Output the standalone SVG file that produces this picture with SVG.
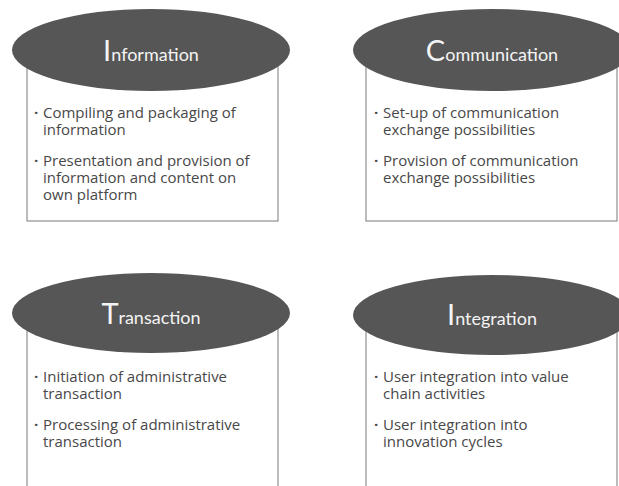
<svg xmlns="http://www.w3.org/2000/svg" width="619" height="486" viewBox="0 0 619 486">
  <style>
    .box { fill: #ffffff; stroke: #8f8f8f; stroke-width: 1.2; }
    .cap { fill: #565656; }
    .title { font-family: Lato, "Open Sans", sans-serif; font-size: 18px; fill: #f4f4f4; text-anchor: middle; }
    .init { font-size: 29px; }
    .body { font-family: "Open Sans", "Noto Sans", sans-serif; font-size: 15px; fill: #484848; }
    .dot { font-weight: bold; }
  </style>
  <rect width="619" height="486" fill="#ffffff"/>

  <g id="information">
    <rect class="box" x="27" y="50" width="251" height="171"/>
    <ellipse class="cap" cx="151" cy="50" rx="139" ry="41"/>
    <text class="title" x="151" y="61"><tspan class="init">I</tspan>nformation</text>
    <text class="body" y="118"><tspan class="dot" x="34">·</tspan><tspan x="43">Compiling and packaging of</tspan><tspan x="43" dy="17">information</tspan></text>
    <text class="body" y="166"><tspan class="dot" x="34">·</tspan><tspan x="43">Presentation and provision of</tspan><tspan x="43" dy="17">information and content on</tspan><tspan x="43" dy="17">own platform</tspan></text>
  </g>

  <g id="communication">
    <rect class="box" x="366" y="50" width="251" height="171"/>
    <ellipse class="cap" cx="492" cy="50" rx="139" ry="41"/>
    <text class="title" x="492" y="61"><tspan class="init">C</tspan>ommunication</text>
    <text class="body" y="118"><tspan class="dot" x="374">·</tspan><tspan x="383">Set-up of communication</tspan><tspan x="383" dy="17">exchange possibilities</tspan></text>
    <text class="body" y="166"><tspan class="dot" x="374">·</tspan><tspan x="383">Provision of communication</tspan><tspan x="383" dy="17">exchange possibilities</tspan></text>
  </g>

  <g id="transaction">
    <rect class="box" x="27" y="314" width="251" height="190"/>
    <ellipse class="cap" cx="151" cy="313" rx="139" ry="40"/>
    <text class="title" x="151" y="324"><tspan class="init">T</tspan>ransaction</text>
    <text class="body" y="382"><tspan class="dot" x="34">·</tspan><tspan x="43">Initiation of administrative</tspan><tspan x="43" dy="17">transaction</tspan></text>
    <text class="body" y="430"><tspan class="dot" x="34">·</tspan><tspan x="43">Processing of administrative</tspan><tspan x="43" dy="17">transaction</tspan></text>
  </g>

  <g id="integration">
    <rect class="box" x="366" y="314" width="251" height="190"/>
    <ellipse class="cap" cx="492" cy="315" rx="139" ry="40"/>
    <text class="title" x="492" y="325"><tspan class="init">I</tspan>ntegration</text>
    <text class="body" y="382"><tspan class="dot" x="374">·</tspan><tspan x="383">User integration into value</tspan><tspan x="383" dy="17">chain activities</tspan></text>
    <text class="body" y="430"><tspan class="dot" x="374">·</tspan><tspan x="383">User integration into</tspan><tspan x="383" dy="17">innovation cycles</tspan></text>
  </g>

  <g id="connectors"/>
</svg>
